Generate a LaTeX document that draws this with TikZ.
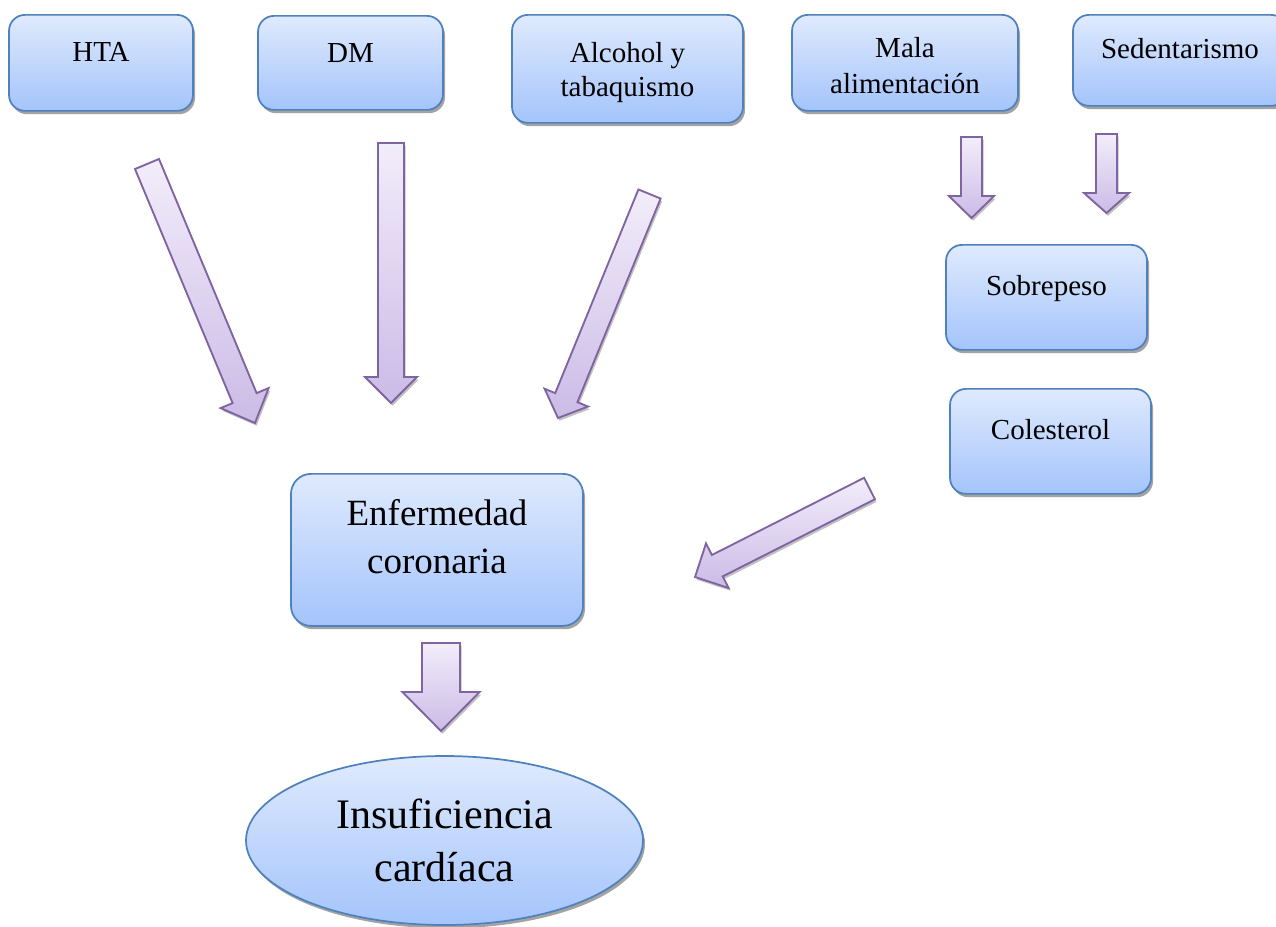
\documentclass[tikz,border=0pt]{standalone}
\usepackage{fontspec}
\setmainfont{Liberation Serif}
\usetikzlibrary{calc,shadows,shapes.geometric}
\definecolor{boxline}{RGB}{79,129,189}
\definecolor{boxtop}{RGB}{223,234,253}
\definecolor{boxbot}{RGB}{164,196,251}
\definecolor{arrline}{RGB}{128,100,162}
\definecolor{arrtop}{RGB}{242,237,250}
\definecolor{arrbot}{RGB}{203,187,230}
\newcommand\twoline[2]{\begin{tabular}[t]{@{}c@{}}#1\\#2\end{tabular}}
\newcommand\blockarrow[5]{%
  \coordinate (#1-#2-h) at ($(#2)!#5!(#1)$);
  \draw[arrowbody] ($(#1)!#3!90:(#2)$) -- ($(#1-#2-h)!#3!90:(#2)$)
    -- ($(#1-#2-h)!#4!90:(#2)$) -- (#2) -- ($(#1-#2-h)!#4!-90:(#2)$)
    -- ($(#1-#2-h)!#3!-90:(#2)$) -- ($(#1)!#3!-90:(#2)$) -- cycle;
}
\tikzset{
  boxshadow/.style={drop shadow={shadow xshift=1.5pt, shadow yshift=-2.5pt, fill=black!45, opacity=.8}},
  riskbox/.style={draw=boxline, line width=1.3pt, rounded corners=12pt,
    top color=boxtop, bottom color=boxbot, boxshadow,
    inner xsep=0pt, inner ysep=0pt, anchor=north,
    font=\fontsize{21.75}{25}\selectfont},
  arrowbody/.style={draw=arrline, line width=1.4pt, line join=miter,
    top color=arrtop, bottom color=arrbot,
    drop shadow={shadow xshift=1.2pt, shadow yshift=-2pt, fill=black!40, opacity=.6}},
}
\begin{document}
\begin{tikzpicture}[x=0.75pt,y=-0.75pt]
\useasboundingbox (0,0) rectangle (1276,926);
% top row
\node[riskbox, minimum width=138pt, text height=35.25pt, text depth=36.75pt] (hta) at (101,14) {HTA};
\node[riskbox, minimum width=138.75pt, text height=35.25pt, text depth=35.25pt] (dm) at (350.5,15) {DM};
\node[riskbox, minimum width=173.25pt, text height=36pt, text depth=45pt,
  font=\fontsize{21.75}{25}\selectfont] (alc) at (627.5,14) {\twoline{Alcohol y}{tabaquismo}};
\node[riskbox, minimum width=169.5pt, text height=32.25pt, text depth=39.75pt,
  font=\fontsize{21.75}{27}\selectfont] (mala) at (905,14) {\twoline{Mala}{alimentación}};
\node[riskbox, minimum width=160.5pt, text height=33pt, text depth=35.25pt] (sed) at (1180,14) {Sedentarismo};
% right column
\node[riskbox, minimum width=150.75pt, text height=38.25pt, text depth=40.5pt] (sob) at (1046.5,244) {Sobrepeso};
\node[riskbox, minimum width=150.75pt, text height=38.25pt, text depth=40.5pt] (col) at (1050.5,388) {Colesterol};
% centre
\node[riskbox, rounded corners=15pt, minimum width=219pt, text height=39pt, text depth=75pt,
  font=\fontsize{27.75}{36}\selectfont] (enf) at (437,473) {\twoline{Enfermedad}{coronaria}};
\node[ellipse, draw=boxline, line width=1.3pt, top color=boxtop, bottom color=boxbot, boxshadow,
  inner sep=0pt, minimum width=297.75pt, minimum height=126.75pt,
  text height=15pt, text depth=33.75pt,
  font=\fontsize{31.5}{39.75}\selectfont] (ins) at (444.5,840.5) {\twoline{Insuficiencia}{cardíaca}};
% arrow end points
\coordinate (t1) at (147,164);    \coordinate (p1) at (255,423);
\coordinate (t2) at (391,143);    \coordinate (p2) at (391,403);
\coordinate (t3) at (649.5,194);  \coordinate (p3) at (558,418);
\coordinate (t4) at (971.5,137);  \coordinate (p4) at (971.5,218);
\coordinate (t5) at (1106.5,134); \coordinate (p5) at (1106.5,213);
\coordinate (t6) at (869.5,488.5);\coordinate (p6) at (695,577);
\coordinate (t7) at (441,643);    \coordinate (p7) at (441,731);
\blockarrow{t1}{p1}{9.75pt}{19.5pt}{20.25pt}
\blockarrow{t2}{p2}{9.75pt}{19.5pt}{19.5pt}
\blockarrow{t3}{p3}{9pt}{17.6pt}{16.5pt}
\blockarrow{t4}{p4}{7.9pt}{16.9pt}{16.5pt}
\blockarrow{t5}{p5}{7.9pt}{16.9pt}{15pt}
\blockarrow{t6}{p6}{9pt}{18.75pt}{18.75pt}
\blockarrow{t7}{p7}{14.25pt}{28.9pt}{29.25pt}
\end{tikzpicture}
\end{document}
